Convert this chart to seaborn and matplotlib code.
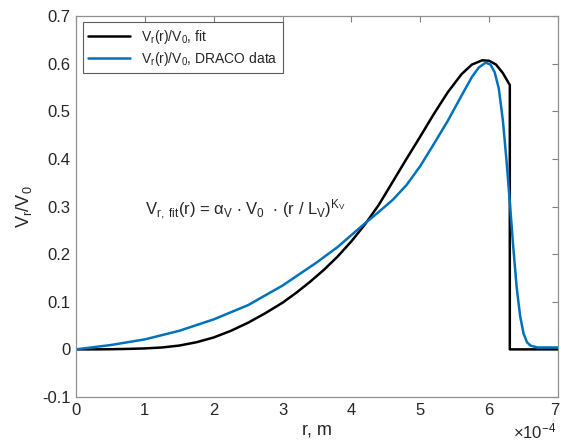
import matplotlib
matplotlib.use("Agg")
import matplotlib.pyplot as plt
import matplotlib.transforms as mtransforms
import seaborn as sns
import pandas as pd

# r in units of 1e-4 m
r_fit = [0, 0.25, 0.5, 0.75, 1.0, 1.25, 1.5, 1.75, 2.0, 2.25, 2.5, 2.75, 3.0, 3.2, 3.4, 3.6,
         3.8, 4.0, 4.2, 4.4, 4.6, 4.8, 5.0, 5.2, 5.4, 5.6, 5.75, 5.9, 6.0, 6.1, 6.2, 6.3, 6.3, 7.0]
v_fit = [0, 0.0, 0.0003, 0.001, 0.002, 0.004, 0.008, 0.015, 0.025, 0.039, 0.056, 0.076, 0.098,
         0.119, 0.142, 0.167, 0.195, 0.227, 0.263, 0.304, 0.352, 0.40, 0.447, 0.495, 0.54, 0.578,
         0.598, 0.607, 0.606, 0.598, 0.58, 0.555, 0.0, 0.0]

r_draco = [0, 0.5, 1.0, 1.5, 2.0, 2.5, 3.0, 3.5, 3.8, 4.0, 4.2, 4.4, 4.6, 4.8, 5.0, 5.2, 5.4,
           5.6, 5.75, 5.85, 5.95, 6.02, 6.08, 6.14, 6.2, 6.25, 6.3, 6.35, 6.4, 6.45, 6.5, 6.55,
           6.6, 6.7, 7.0]
v_draco = [0, 0.009, 0.021, 0.039, 0.063, 0.093, 0.134, 0.183, 0.215, 0.240, 0.265, 0.289, 0.314,
           0.345, 0.385, 0.432, 0.48, 0.533, 0.572, 0.592, 0.602, 0.598, 0.582, 0.548, 0.48, 0.40,
           0.31, 0.215, 0.13, 0.07, 0.033, 0.015, 0.008, 0.004, 0.004]

label_fit = r"V$_\mathregular{r}$(r)/V$_\mathregular{0}$, fit"
label_draco = r"V$_\mathregular{r}$(r)/V$_\mathregular{0}$, DRACO data"

sns.set_style("white")
plt.rcParams["font.family"] = ["Liberation Sans", "DejaVu Sans"]
plt.rcParams["mathtext.fontset"] = "custom"
plt.rcParams["mathtext.rm"] = "Liberation Sans"
plt.rcParams["mathtext.it"] = "Liberation Sans:italic"
plt.rcParams["mathtext.default"] = "regular"

fig = plt.figure(figsize=(5.61, 4.41), dpi=100)
ax = fig.add_axes([76 / 561, 44 / 441, 482 / 561, 381 / 441])

df_fit = pd.DataFrame({"r": r_fit, "v": v_fit})
df_dr = pd.DataFrame({"r": r_draco, "v": v_draco})
sns.lineplot(data=df_fit, x="r", y="v", ax=ax, color="black", lw=1.8, sort=False,
             estimator=None, label=label_fit)
sns.lineplot(data=df_dr, x="r", y="v", ax=ax, color="#0072BD", lw=1.8, sort=False,
             estimator=None, label=label_draco)

ax.set_xlim(0, 7)
ax.set_ylim(-0.1, 0.7)
ax.set_xticks(range(0, 8))
ax.set_yticks([-0.1, 0, 0.1, 0.2, 0.3, 0.4, 0.5, 0.6, 0.7])
ax.set_yticklabels(["-0.1", "0", "0.1", "0.2", "0.3", "0.4", "0.5", "0.6", "0.7"])
ax.tick_params(direction="in", length=4, width=0.8, color="#808080", labelsize=12,
               top=True, right=True, pad=4)
for s in ax.spines.values():
    s.set_color("#909090")
    s.set_linewidth(0.9)

# nudge the last x tick label so it stays inside the figure
last = ax.get_xticklabels()[-1]
last.set_transform(last.get_transform() + mtransforms.ScaledTranslation(-3 / 100, 0, fig.dpi_scale_trans))

ax.set_xlabel("r, m", fontsize=13, labelpad=3)
ax.set_ylabel(r"V$_\mathregular{r}$/V$_\mathregular{0}$", fontsize=13, labelpad=6)

ax.text(1.0, 0.293,
        r"V$_\mathregular{r,\ fit}$(r) = $\alpha_\mathregular{V}$ $\cdot$ V$_\mathregular{0}$  $\cdot$ (r / L$_\mathregular{V}$)$^\mathregular{K_V}$",
        fontsize=12, va="center", ha="left")

ax.text(0.997, -0.065, r"$\times$10$^\mathregular{-4}$", transform=ax.transAxes,
        fontsize=12, ha="right", va="top")

leg = ax.legend(loc="upper left", bbox_to_anchor=(0.005, 0.995), fontsize=10, frameon=True,
                fancybox=False, edgecolor="#333333", borderpad=0.4, handlelength=3.0,
                labelspacing=0.3, borderaxespad=0.3)
leg.get_frame().set_linewidth(0.8)

fig.savefig("out.png", dpi=100)
